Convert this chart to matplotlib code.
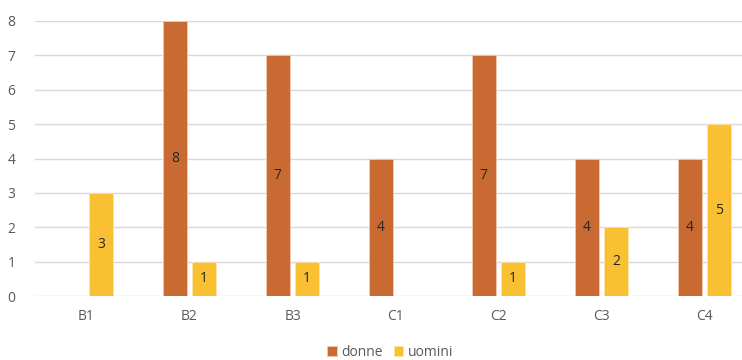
import matplotlib
matplotlib.use("Agg")
import matplotlib.pyplot as plt
import numpy as np

categories = ["B1", "B2", "B3", "C1", "C2", "C3", "C4"]
donne = [0, 8, 7, 4, 7, 4, 4]
uomini = [3, 1, 1, 0, 1, 2, 5]
yticks = [0, 1, 2, 3, 4, 5, 6, 7, 8]

plt.rcParams["font.family"] = ["Open Sans", "DejaVu Sans"]

W, H = 742, 360
fig = plt.figure(figsize=(W / 100, H / 100), dpi=100)
left, right, top, bottom = 35, 742, 21, 296
ax = fig.add_axes([left / W, 1 - bottom / H, (right - left) / W, (bottom - top) / H])

step = 103.0  # pixels per category
x = np.arange(len(categories))
width = 0.232
off = 0.143
c_d = "#C96A33"
c_u = "#F8C032"

bd = ax.bar(x - off, donne, width, color=c_d, edgecolor="#F0C8B0", linewidth=0.6, zorder=3, label="donne")
bu = ax.bar(x + off, uomini, width, color=c_u, edgecolor="#FBE3A8", linewidth=0.6, zorder=3, label="uomini")

for rects, vals in ((bd, donne), (bu, uomini)):
    for r, v in zip(rects, vals):
        if v > 0:
            ax.text(r.get_x() + r.get_width() / 2, v / 2, str(v), ha="center", va="center",
                    fontsize=10, color="#262626", zorder=4)

ax.set_xlim(-0.5, -0.5 + (right - left) / step)
ax.set_ylim(0, 8)
ax.set_yticks(yticks)
ax.set_xticks(x)
ax.set_xticklabels(categories)
ax.tick_params(axis="both", length=0, labelsize=10, labelcolor="#595959")
ax.tick_params(axis="y", pad=14)
ax.tick_params(axis="x", pad=9)
ax.grid(axis="y", color="#D9D9D9", linewidth=1.0, zorder=0)
for s in ax.spines.values():
    s.set_visible(False)

fig.legend(handles=[bd, bu], labels=["donne", "uomini"], loc="center", bbox_to_anchor=(390 / W, 1 - 352 / H),
           ncol=2, frameon=False, fontsize=10, handlelength=0.7, handleheight=0.7,
           handletextpad=0.3, columnspacing=0.8, labelcolor="#595959")

fig.savefig("out.png", dpi=100)
